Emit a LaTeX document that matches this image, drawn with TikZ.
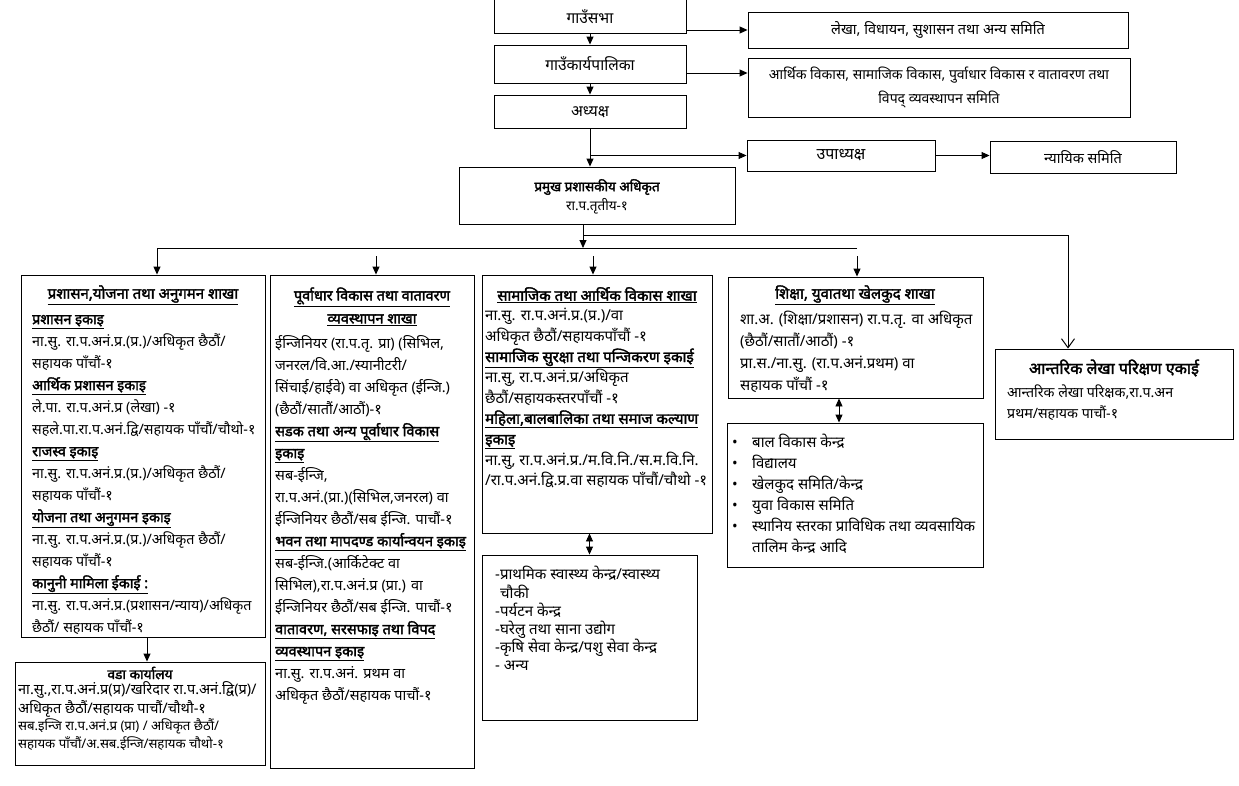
\documentclass[tikz,border=0pt]{standalone}
\usepackage{fontspec}
\setmainfont{Noto Sans}[Script=Devanagari]
\newfontfamily\bdev{Noto Sans}[Script=Devanagari, FakeBold=2.2]
\usetikzlibrary{arrows.meta,fit,calc}
\newcommand\hd[1]{\underline{{\bdev #1}}}
\newcommand\fs[2]{\fontsize{#1}{#2}\selectfont}
\tikzset{
  bx/.style={draw, line width=0.9pt, inner sep=0pt},
  tx/.style={inner sep=0pt, anchor=north west, align=left},
  ctx/.style={inner sep=0pt, align=center},
  ln/.style={line width=0.9pt},
  ar/.style={-{Triangle[length=8pt,width=7pt]}, line width=0.9pt},
  dar/.style={{Triangle[length=8pt,width=7pt]}-{Triangle[length=8pt,width=7pt]}, line width=0.9pt},
  oar/.style={-{Straight Barb[length=9pt,width=13pt,line width=1pt]}, line width=0.9pt},
}
\begin{document}
\begin{tikzpicture}[x=1pt,y=-1pt]
\fill[white] (0,0) rectangle (1239,785);
\useasboundingbox (0,0) rectangle (1239,785);

% ---- boxes ----
\node[bx, fit={(494,-4)(686,33)}] (sabha) {};
\node[bx, fit={(494,45)(686,83)}] (karya) {};
\node[bx, fit={(494,95)(686,128)}] (adhy) {};
\node[bx, fit={(748,12)(1128,48)}] (lekha) {};
\node[bx, fit={(748,58)(1130,117)}] (arthik) {};
\node[bx, fit={(747,140)(935,171)}] (upa) {};
\node[bx, fit={(990,141)(1176,173)}] (nyayik) {};
\node[bx, fit={(459,167)(735,224)}] (pramukh) {};
\node[bx, fit={(21,275)(265,637)}] (c1) {};
\node[bx, fit={(270,275)(474,768)}] (c2) {};
\node[bx, fit={(482,275)(712,533)}] (c3) {};
\node[bx, fit={(728,277)(983,398)}] (c4) {};
\node[bx, fit={(995,349)(1233,439)}] (c5) {};
\node[bx, fit={(15,662)(265,765)}] (wada) {};
\node[bx, fit={(482,555)(697,720)}] (c3b) {};
\node[bx, fit={(727,423)(983,567)}] (c4b) {};

% ---- top texts ----
\node[ctx, font=\fs{15.5}{20}] (tsabha) at (590,17) {गाउँसभा};
\node[ctx, font=\fs{15.5}{20}] (tkarya) at (590,64) {गाउँकार्यपालिका};
\node[ctx, font=\fs{15.5}{20}] (tadhy) at (590,112) {अध्यक्ष};
\node[ctx, font=\fs{14.5}{20}] (tlekha) at (lekha.center) {लेखा, विधायन, सुशासन तथा अन्य समिति};
\node[ctx, font=\fs{14}{24}] (tarthik) at (arthik.center) {आर्थिक विकास, सामाजिक विकास, पुर्वाधार विकास र वातावरण तथा\\विपद् व्यवस्थापन समिति};
\node[ctx, font=\fs{16}{20}] (tupa) at (upa.center) {उपाध्यक्ष};
\node[ctx, font=\fs{14.5}{20}] (tnyayik) at (nyayik.center) {न्यायिक समिति};
\node[ctx, font=\fs{13.5}{20}\bdev] (tpr1) at (597,187) {प्रमुख प्रशासकीय अधिकृत};
\node[ctx, font=\fs{13.5}{20}] (tpr2) at (597,206) {रा.प.तृतीय-१};

% ---- column 1 ----
\node[ctx, font=\fs{15}{22}] (h1) at (143,295) {\hd{प्रशासन,योजना तथा अनुगमन शाखा}};
\node[tx, font=\fs{14.3}{22}] (b1) at (32,308.5) {\strut\hd{प्रशासन इकाइ}\\
ना.सु. रा.प.अनं.प्र.(प्र.)/अधिकृत छैठौं/\\
सहायक पाँचौं-१\\
\hd{आर्थिक प्रशासन इकाइ}\\
ले.पा. रा.प.अनं.प्र (लेखा) -१\\
सहले.पा.रा.प.अनं.द्वि/सहायक पाँचौं/चौथो-१\\
\hd{राजस्व इकाइ}\\
ना.सु. रा.प.अनं.प्र.(प्र.)/अधिकृत छैठौं/\\
सहायक पाँचौं-१\\
\hd{योजना तथा अनुगमन इकाइ}\\
ना.सु. रा.प.अनं.प्र.(प्र.)/अधिकृत छैठौं/\\
सहायक पाँचौं-१\\
\hd{कानुनी मामिला ईकाई :}\\
ना.सु. रा.प.अनं.प्र.(प्रशासन/न्याय)/अधिकृत\\
छैठौं/ सहायक पाँचौं-१};

% ---- wada ----
\node[ctx, font=\fs{13.75}{20}\bdev] (hw) at (140,673) {वडा कार्यालय};
\node[tx, font=\fs{14.5}{17.5}] (bw) at (18,681) {\strut ना.सु.,रा.प.अनं.प्र(प्र)/खरिदार रा.प.अनं.द्वि(प्र)/\\
अधिकृत छैठौं/सहायक पाचौं/चौथौ-१\\
\fs{13.2}{17.5}सब.इन्जि रा.प.अनं.प्र (प्रा) / अधिकृत छैठौं/\\
\fs{13.2}{17.5}सहायक पाँचौं/अ.सब.ईन्जि/सहायक चौथो-१};

% ---- column 2 ----
\node[ctx, font=\fs{14.5}{23}] (h2) at (372,306.5) {\hd{पूर्वाधार विकास तथा वातावरण}\\\hd{व्यवस्थापन शाखा}};
\node[tx, font=\fs{14.5}{22}] (b2) at (275,332.5) {\strut ईन्जिनियर (रा.प.तृ. प्रा) (सिभिल,\\
जनरल/वि.आ./स्यानीटरी/\\
सिंचाई/हाईवे) वा अधिकृत (ईन्जि.)\\
(छैठौं/सातौं/आठौं)-१\\
\hd{सडक तथा अन्य पूर्वाधार विकास}\\
\hd{इकाइ}\\
सब-ईन्जि,\\
रा.प.अनं.(प्रा.)(सिभिल,जनरल) वा\\
ईन्जिनियर छैठौं/सब ईन्जि. पाचौं-१\\
\hd{भवन तथा मापदण्ड कार्यान्वयन इकाइ}\\
सब-ईन्जि.(आर्किटेक्ट वा\\
सिभिल),रा.प.अनं.प्र (प्रा.) वा\\
ईन्जिनियर छैठौं/सब ईन्जि. पाचौं-१\\
\hd{वातावरण, सरसफाइ तथा विपद}\\
\hd{व्यवस्थापन इकाइ}\\
ना.सु. रा.प.अनं. प्रथम वा\\
अधिकृत छैठौं/सहायक पाचौं-१};

% ---- column 3 ----
\node[ctx, font=\fs{15}{22}] (h3) at (597,295) {\hd{सामाजिक तथा आर्थिक विकास शाखा}};
\node[tx, font=\fs{15}{20.6}] (b3) at (485,306.2) {\strut ना.सु. रा.प.अनं.प्र.(प्र.)/वा\\
अधिकृत छैठौं/सहायकपाँचौं -१\\
\hd{सामाजिक सुरक्षा तथा पन्जिकरण इकाई}\\
ना.सु, रा.प.अनं.प्र/अधिकृत\\
छैठौं/सहायकस्तरपाँचौं -१\\
\hd{महिला,बालबालिका तथा समाज कल्याण}\\
\hd{इकाइ}\\
ना.सु, रा.प.अनं.प्र./म.वि.नि./स.म.वि.नि.\\
/रा.प.अनं.द्वि.प्र.वा सहायक पाँचौं/चौथो -१};

\node[tx, font=\fs{15}{17.8}] (b3b) at (495,565.5) {\strut -प्राथमिक स्वास्थ्य केन्द्र/स्वास्थ्य\\
\hspace*{5pt}चौकी\\
-पर्यटन केन्द्र\\
-घरेलु तथा साना उद्योग\\
-कृषि सेवा केन्द्र/पशु सेवा केन्द्र\\
- अन्य};

% ---- column 4 ----
\node[ctx, font=\fs{15}{22}] (h4) at (855,295) {\hd{शिक्षा, युवातथा खेलकुद शाखा}};
\node[tx, font=\fs{15}{22}] (b4) at (740,308.5) {\strut शा.अ. (शिक्षा/प्रशासन) रा.प.तृ. वा अधिकृत\\
(छैठौं/सातौं/आठौं) -१\\
प्रा.स./ना.सु. (रा.प.अनं.प्रथम) वा\\
सहायक पाँचौं -१};

\node[tx, font=\fs{15}{21}] (b4b) at (732,433) {\strut\makebox[20pt][l]{•}बाल विकास केन्द्र\\
\makebox[20pt][l]{•}विद्यालय\\
\makebox[20pt][l]{•}खेलकुद समिति/केन्द्र\\
\makebox[20pt][l]{•}युवा विकास समिति\\
\makebox[20pt][l]{•}स्थानिय स्तरका प्राविधिक तथा व्यवसायिक\\
\hspace*{20pt}तालिम केन्द्र आदि};

% ---- column 5 ----
\node[ctx, font=\fs{16}{22}\bdev] (h5) at (1114,368) {आन्तरिक लेखा परिक्षण एकाई};
\node[tx, font=\fs{14.2}{21}] (b5) at (1007,382.5) {\strut आन्तरिक लेखा परिक्षक,रा.प.अन\\
प्रथम/सहायक पाचौं-१};

% ---- connectors ----
\draw[ar] (sabha.south) -- (karya.north);
\draw[ar] (karya.south) -- (adhy.north);
\draw[ar] (lekha.west -| sabha.east) -- (lekha.west);
\coordinate (ka) at ($(karya.east)+(0,9)$);
\draw[ar] (ka) -- (ka -| arthik.west);
\draw[ar] (adhy.south) -- (adhy.south |- pramukh.north);
\coordinate (bu) at (adhy.south |- upa.west);
\draw[ar] (bu) -- (upa.west);
\draw[ar] (upa.east) -- (upa.east -| nyayik.west);

\coordinate (pb) at ($(pramukh.south)+(-14,0)$);
\coordinate (hy) at (0,248);
\draw[ar] (pb) -- (pb |- hy);
\coordinate (rb) at ($(pb)+(0,11)$);
\coordinate (rx) at (1068,0);
\draw[oar] (rb) -- (rb -| rx) -- (c5.north -| rx);

\coordinate (L) at (157,248);
\coordinate (R) at (857,248);
\draw[ln] (R) -- (L);
\draw[ar] (L) -- (L |- c1.north);
\coordinate (a2) at (376,256);
\draw[ar] (a2) -- (a2 |- c2.north);
\coordinate (a3) at (593,256);
\draw[ar] (a3) -- (a3 |- c3.north);
\coordinate (a4) at (857,256);
\draw[ar] (a4) -- (a4 |- c4.north);

\coordinate (w) at (147,0);
\draw[ar] (c1.south -| w) -- (wada.north -| w);
\draw[dar] (c3.south -| c3b.north) -- (c3b.north);
\coordinate (d4) at (839,0);
\draw[dar] (c4.south -| d4) -- (c4b.north -| d4);
\end{tikzpicture}
\end{document}
